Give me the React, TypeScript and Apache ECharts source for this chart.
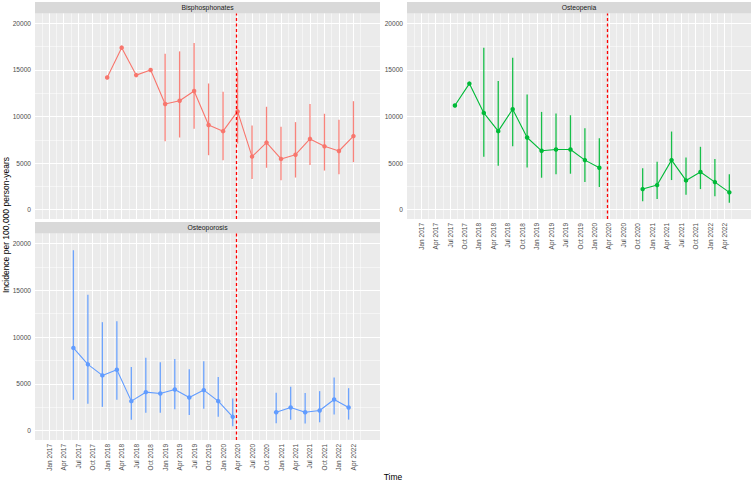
import React, { useEffect, useRef } from "react";
import * as echarts from "echarts";

// ---- data ----
const tickLabels = [
  "Jan 2017", "Apr 2017", "Jul 2017", "Oct 2017",
  "Jan 2018", "Apr 2018", "Jul 2018", "Oct 2018",
  "Jan 2019", "Apr 2019", "Jul 2019", "Oct 2019",
  "Jan 2020", "Apr 2020", "Jul 2020", "Oct 2020",
  "Jan 2021", "Apr 2021", "Jul 2021", "Oct 2021",
  "Jan 2022", "Apr 2022",
];
const yTicks = [0, 5000, 10000, 15000, 20000];
const yMinorTicks = [2500, 7500, 12500, 17500];
const lockdownDate = "2020-03-23";

const bisDates = [
  "2018-01", "2018-04", "2018-07", "2018-10", "2019-01", "2019-04", "2019-07", "2019-10",
  "2020-01", "2020-04", "2020-07", "2020-10", "2021-01", "2021-04", "2021-07", "2021-10",
  "2022-01", "2022-04",
];
const bisRate = [14200, 17400, 14450, 15000, 11350, 11700, 12750, 9100, 8430, 10550, 5700, 7200, 5450, 5900, 7600, 6800, 6300, 7900];
const bisLower = [null, null, null, null, 7350, 7750, 8700, 5850, 5300, 7100, 3300, 4500, 3150, 3450, 4800, 4200, 3800, 5100];
const bisUpper = [null, null, null, null, 16750, 17000, 17900, 13550, 12650, 15050, 9050, 11050, 8900, 9400, 11350, 10300, 9650, 11650];

const openDates = [
  "2017-08", "2017-11", "2018-02", "2018-05", "2018-08", "2018-11", "2019-02", "2019-05",
  "2019-08", "2019-11", "2020-02", "2020-05", "2020-08", "2020-11", "2021-02", "2021-05",
  "2021-08", "2021-11", "2022-02", "2022-05",
];
const openRate = [11180, 13540, 10390, 8430, 10790, 7750, 6320, 6460, 6460, 5320, 4500, null, null, 2210, 2640, 5320, 3140, 4040, 2960, 1860];
const openLower = [null, null, 5680, 4710, 6820, 4540, 3430, 3790, 3860, 2960, 2430, null, null, 890, 1140, 3180, 1610, 2210, 1430, 750];
const openUpper = [null, null, 17390, 13820, 16320, 12360, 10500, 10320, 10140, 8750, 7680, null, null, 4460, 5140, 8390, 5610, 6750, 5430, 3790];

const poroDates = [
  "2017-06", "2017-09", "2017-12", "2018-03", "2018-06", "2018-09", "2018-12", "2019-03",
  "2019-06", "2019-09", "2019-12", "2020-03", "2020-06", "2020-09", "2020-12", "2021-03",
  "2021-06", "2021-09", "2021-12", "2022-03",
];
const poroRate = [8840, 7080, 5900, 6510, 3150, 4110, 3970, 4400, 3540, 4330, 3150, 1470, null, null, 1970, 2470, 1970, 2150, 3330, 2470];
const poroLower = [3290, 2860, 2540, 3290, 1150, 1900, 1900, 2290, 1680, 2330, 1470, 470, null, null, 790, 1150, 750, 890, 1720, 1180];
const poroUpper = [19280, 14530, 11590, 11700, 6800, 7800, 7300, 7660, 6550, 7410, 5730, 3440, null, null, 4040, 4690, 4010, 4220, 5690, 4540];

const panelNames = ["Bisphosphonates", "Osteopenia", "Osteoporosis"];
const panelColors = ["#F8766D", "#00BA38", "#619CFF"];

// ---- helpers ----
const MONTHS = ["Jan", "Feb", "Mar", "Apr", "May", "Jun", "Jul", "Aug", "Sep", "Oct", "Nov", "Dec"];
const monthIndex = (s: string) => {
  const parts = s.split("-").map(Number);
  const day = parts[2] ? (parts[2] - 1) / 31 : 0;
  return (parts[0] - 2017) * 12 + (parts[1] - 1) + day;
};
const labelIndex = (s: string) => {
  const [m, y] = s.split(" ");
  return (Number(y) - 2017) * 12 + MONTHS.indexOf(m);
};
const tickVals = tickLabels.map(labelIndex);
const labelMap: Record<string, string> = {};
tickLabels.forEach((l, i) => (labelMap[String(tickVals[i])] = l));
const minorX = [tickVals[0] - 1.5, ...tickVals.map((v) => v + 1.5)];

const X_MIN = -2.95;
const X_MAX = 68.5;
const Y_MIN = -1003;
const Y_MAX = 21067;

const FONT = '"Liberation Sans", Arial, sans-serif';

export default function App() {
  const ref = useRef<HTMLDivElement>(null);
  useEffect(() => {
    if (!ref.current) return;
    const chart = echarts.init(ref.current, undefined, { renderer: "svg" });

    const panels = [
      { dates: bisDates, rate: bisRate, lo: bisLower, hi: bisUpper, grid: { left: 35, top: 13.5, width: 345, height: 205.5 }, xLabels: false },
      { dates: openDates, rate: openRate, lo: openLower, hi: openUpper, grid: { left: 407, top: 13.5, width: 344, height: 205.5 }, xLabels: true },
      { dates: poroDates, rate: poroRate, lo: poroLower, hi: poroUpper, grid: { left: 35, top: 233.5, width: 345, height: 206.5 }, xLabels: true },
    ];

    const grids: any[] = [];
    const xAxes: any[] = [];
    const yAxes: any[] = [];
    const series: any[] = [];
    const graphics: any[] = [];

    panels.forEach((p, i) => {
      const color = panelColors[i];
      grids.push({ ...p.grid, show: true, backgroundColor: "#EBEBEB", borderWidth: 0, containLabel: false, outerBoundsMode: "none" });
      xAxes.push({
        type: "value",
        gridIndex: i,
        min: X_MIN,
        max: X_MAX,
        axisLine: { show: false },
        splitLine: { show: false },
        minorSplitLine: { show: false },
        axisTick: { show: p.xLabels, customValues: tickVals, length: 2.5, lineStyle: { color: "#333333", width: 0.8 } },
        axisLabel: {
          show: p.xLabels,
          customValues: tickVals,
          formatter: (v: number) => labelMap[String(Math.round(v))] || "",
          rotate: 90,
          fontSize: 6.5,
          color: "#4D4D4D",
          margin: 4,
          fontFamily: FONT,
        },
      });
      yAxes.push({
        type: "value",
        gridIndex: i,
        min: Y_MIN,
        max: Y_MAX,
        axisLine: { show: false },
        splitLine: { show: false },
        axisTick: { show: true, customValues: yTicks, length: 2.5, lineStyle: { color: "#333333", width: 0.8 } },
        axisLabel: {
          customValues: yTicks,
          formatter: (v: number) => String(v),
          fontSize: 6.6,
          color: "#4D4D4D",
          margin: 4,
          fontFamily: FONT,
        },
      });

      const white = (w: number) => ({ color: "#FFFFFF", width: w, type: "solid" });
      // grid lines
      series.push({
        type: "line",
        xAxisIndex: i,
        yAxisIndex: i,
        data: [],
        silent: true,
        z: 1,
        markLine: {
          z: 1,
          silent: true,
          symbol: ["none", "none"],
          label: { show: false },
          animation: false,
          data: [
            ...minorX.map((v) => ({ xAxis: v, lineStyle: white(0.5) })),
            ...yMinorTicks.map((v) => ({ yAxis: v, lineStyle: white(0.5) })),
            ...tickVals.map((v) => ({ xAxis: v, lineStyle: white(1) })),
            ...yTicks.map((v) => ({ yAxis: v, lineStyle: white(1) })),
          ],
        },
      });

      // error bars
      const errData = p.dates
        .map((d, k) => [monthIndex(d), p.lo[k], p.hi[k]])
        .filter((r) => r[1] != null && r[2] != null);
      series.push({
        type: "custom",
        xAxisIndex: i,
        yAxisIndex: i,
        z: 3,
        silent: true,
        data: errData,
        encode: { x: 0, y: [1, 2] },
        renderItem: (params: any, api: any) => {
          const x = api.value(0);
          const a = api.coord([x, api.value(1)]);
          const b = api.coord([x, api.value(2)]);
          return {
            type: "line",
            shape: { x1: a[0], y1: a[1], x2: b[0], y2: b[1] },
            style: { stroke: color, lineWidth: 1.3, opacity: 0.9 },
          };
        },
      });

      // line + points
      series.push({
        type: "line",
        name: panelNames[i],
        xAxisIndex: i,
        yAxisIndex: i,
        z: 4,
        data: p.dates.map((d, k) => [monthIndex(d), p.rate[k] == null ? "-" : p.rate[k]]),
        connectNulls: false,
        symbol: "circle",
        symbolSize: 4.5,
        showSymbol: true,
        itemStyle: { color },
        lineStyle: { color, width: 1.1 },
      });

      // lockdown dashed line
      const dash = { color: "#FF0000", width: 1.3, type: [3, 2.5], opacity: 1 };
      series.push({
        type: "line",
        xAxisIndex: i,
        yAxisIndex: i,
        data: [],
        silent: true,
        z: 6,
        markLine: {
          z: 6,
          silent: true,
          symbol: ["none", "none"],
          label: { show: false },
          animation: false,
          data: [{ xAxis: monthIndex(lockdownDate), lineStyle: dash }],
          lineStyle: dash,
        },
      });

      // strip
      const g = p.grid;
      graphics.push({
        type: "rect",
        shape: { x: g.left, y: g.top - 11.5, width: g.width, height: 11.5 },
        style: { fill: "#D9D9D9" },
        silent: true,
      });
      graphics.push({
        type: "text",
        x: g.left + g.width / 2,
        y: g.top - 5.6,
        style: { text: panelNames[i], fill: "#1A1A1A", font: `6.8px ${FONT}`, align: "center", verticalAlign: "middle" },
        silent: true,
      });
    });

    graphics.push({
      type: "text",
      x: 5.5,
      y: 225,
      rotation: Math.PI / 2,
      style: { text: "Incidence per 100,000 person-years", fill: "#000000", font: `8.5px ${FONT}`, align: "center", verticalAlign: "middle" },
      silent: true,
    });
    graphics.push({
      type: "text",
      x: 393,
      y: 476.5,
      style: { text: "Time", fill: "#000000", font: `8.5px ${FONT}`, align: "center", verticalAlign: "middle" },
      silent: true,
    });

    chart.setOption({
      animation: false,
      backgroundColor: "#FFFFFF",
      textStyle: { fontFamily: FONT },
      grid: grids,
      xAxis: xAxes,
      yAxis: yAxes,
      series,
      graphic: graphics,
    });
    return () => chart.dispose();
  }, []);

  return (
    <div
      ref={ref}
      style={{ position: "fixed", left: 0, top: 0, width: 753, height: 481, background: "#FFFFFF" }}
    />
  );
}
